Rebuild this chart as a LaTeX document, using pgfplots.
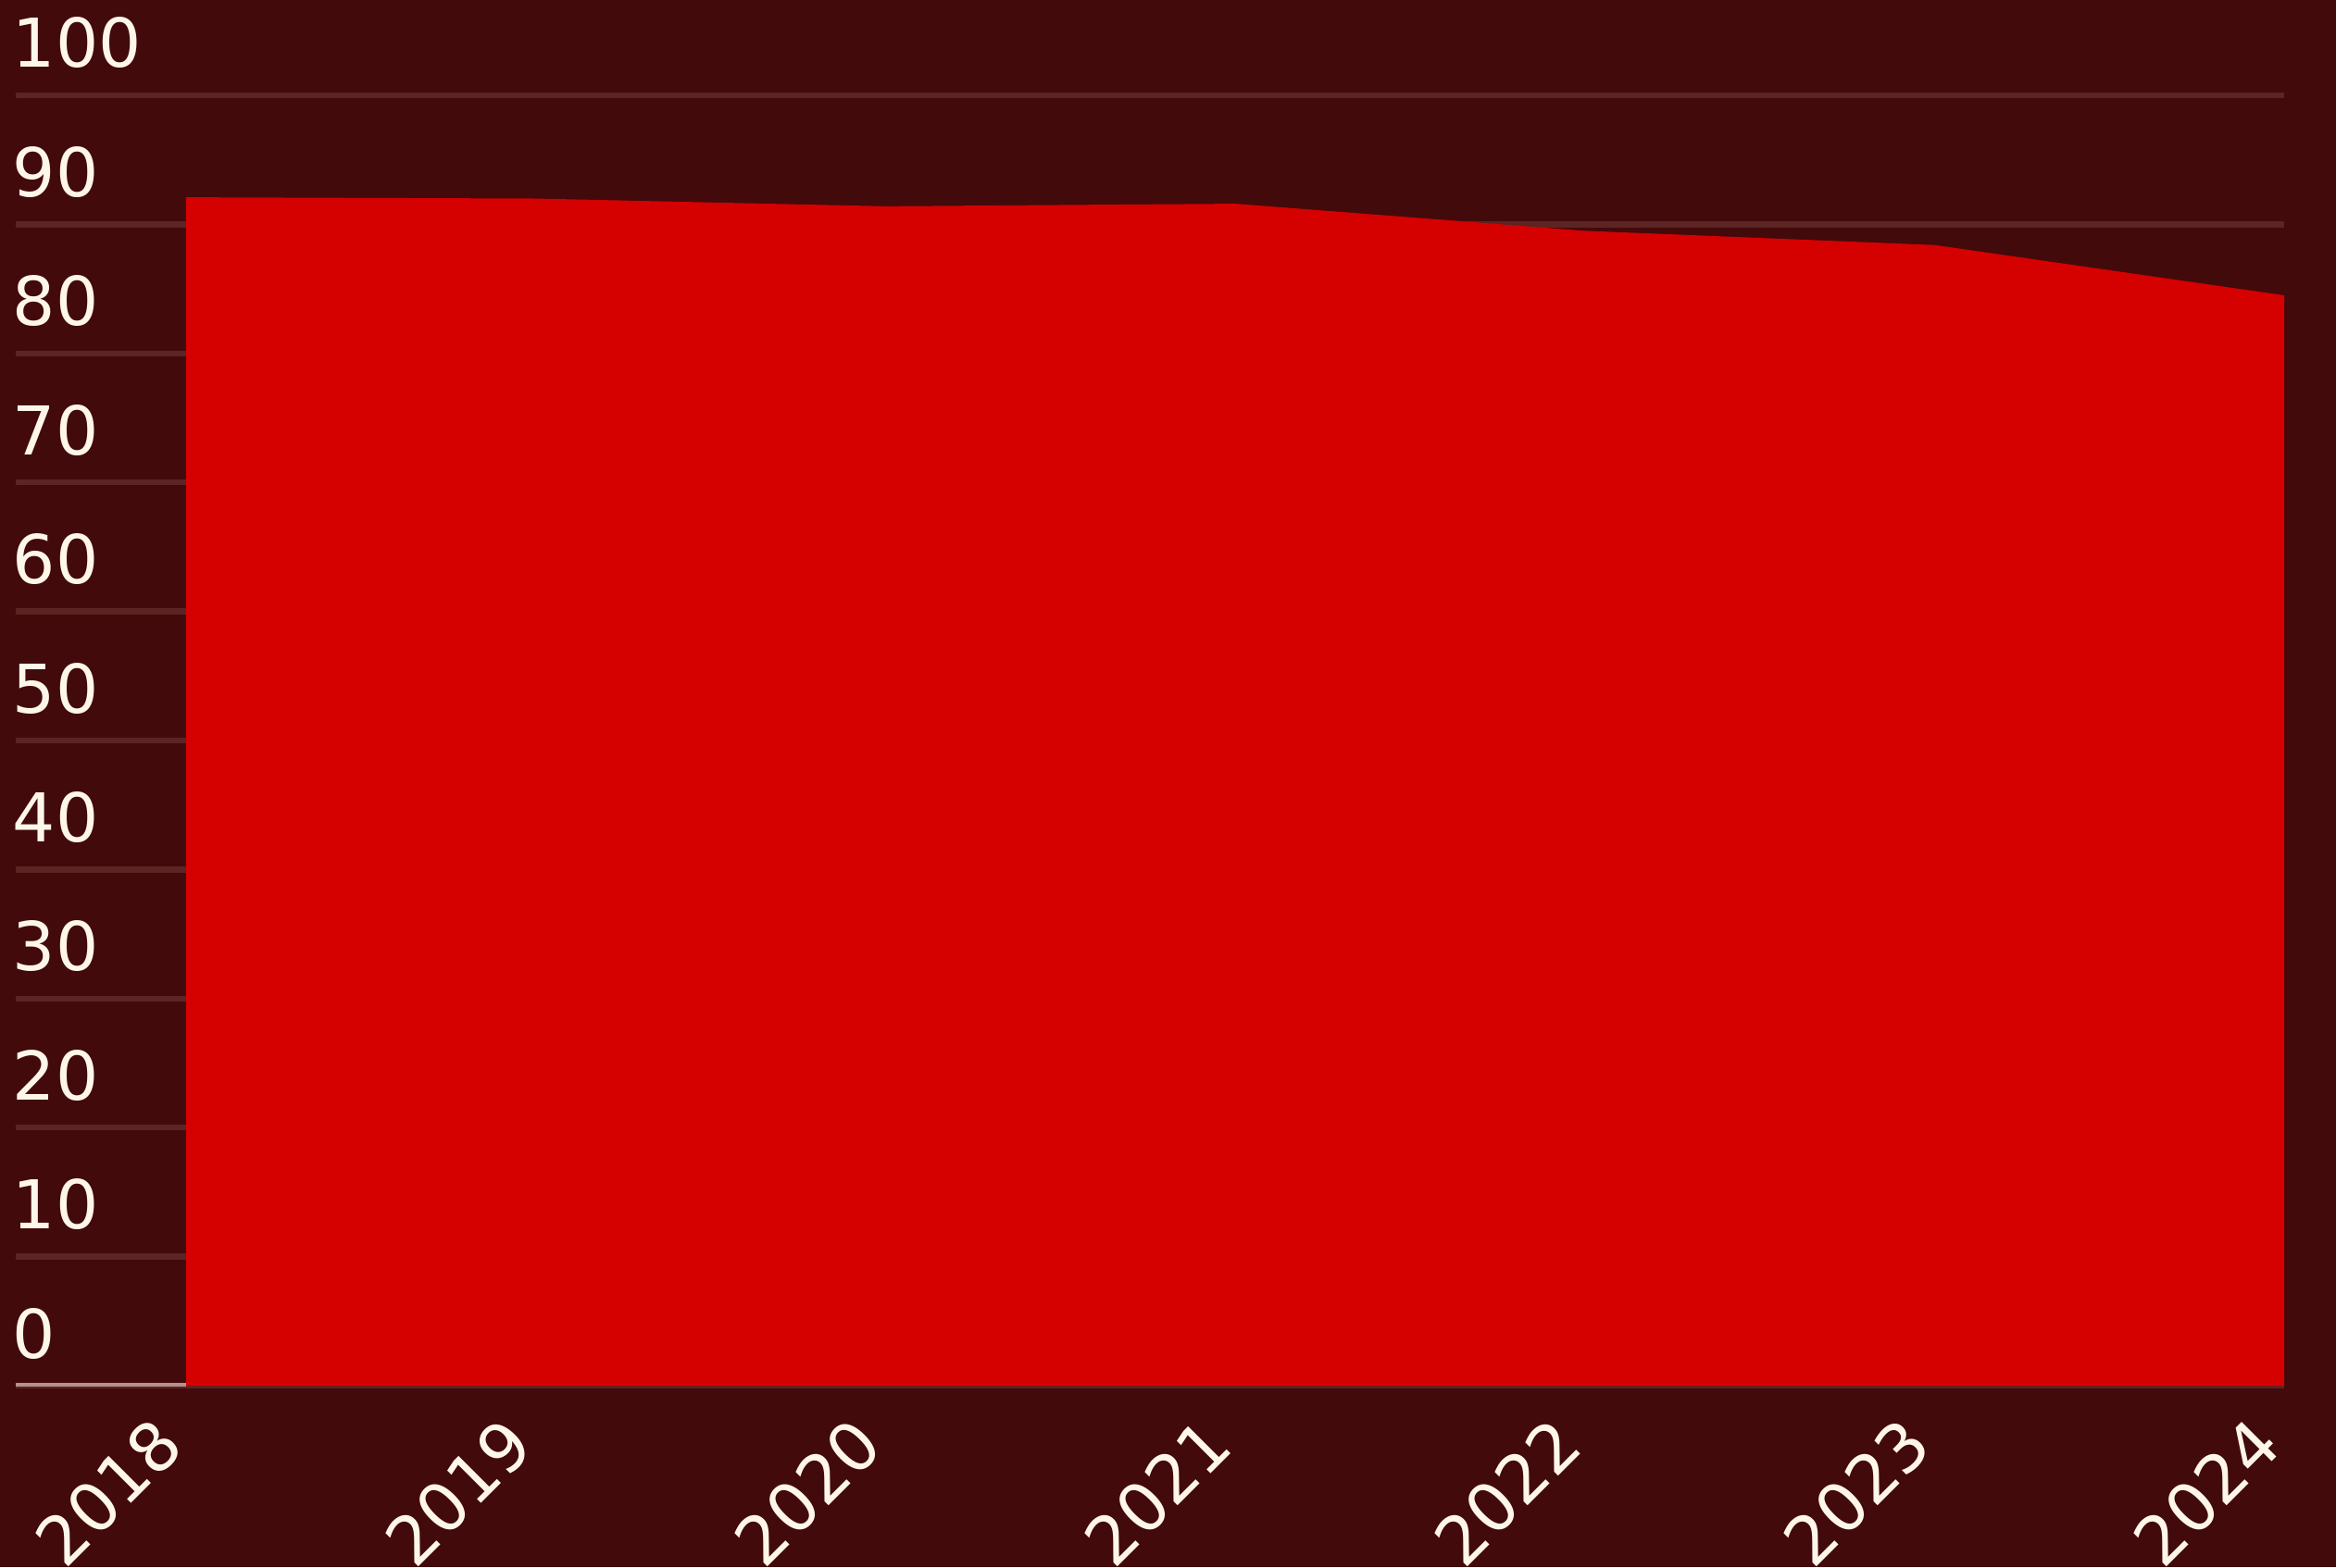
\documentclass[border=0pt]{standalone}
\usepackage{fontspec}
\setmainfont{DejaVu Sans}
\usepackage{pgfplots}
\pgfplotsset{compat=1.18}
\definecolor{bg}{HTML}{420A0B}
\definecolor{area}{HTML}{D50000}
\definecolor{gridc}{HTML}{5C2422}
\definecolor{basec}{HTML}{B59090}
\definecolor{txt}{HTML}{FFF6EA}
\begin{document}
\begin{tikzpicture}[x=1bp,y=1bp]
\useasboundingbox (0,0) rectangle (504.6,338.6);
\fill[bg] (0,0) rectangle (504.6,338.6);
\begin{axis}[
  at={(3.4bp,39.2bp)}, anchor=south west,
  scale only axis, width=490bp, height=278.8bp,
  xmin=2017.513, xmax=2024, ymin=0, ymax=100,
  axis line style={draw=none},
  major tick length=0pt,
  ymajorgrids, grid style={gridc, line width=1.3bp},
  ytick={0,10,...,100},
  xtick={2018,...,2024},
  /pgf/number format/assume math mode=true,
  yticklabel style={font=\fontsize{14.6}{14.6}\selectfont, text=txt, anchor=base west, inner sep=0pt, xshift=-0.8bp, yshift=6bp},
  xticklabel style={font=\fontsize{14.6}{14.6}\selectfont, text=txt, anchor=south east, inner sep=0pt, xshift=0.5bp, yshift=-13.8bp, rotate=45},
  xticklabel={\pgfmathprintnumber[1000 sep={},fixed]{\tick}},
]
\addplot[fill=area, draw=none] coordinates {
  (2018,92.1) (2019,92.0) (2020,91.4) (2021,91.6) (2022,89.5) (2023,88.4) (2024,84.5)
} \closedcycle;
\draw[basec, line width=1.3bp] (axis cs:2017.513,0) -- (axis cs:2018,0);
\end{axis}
\end{tikzpicture}
\end{document}
